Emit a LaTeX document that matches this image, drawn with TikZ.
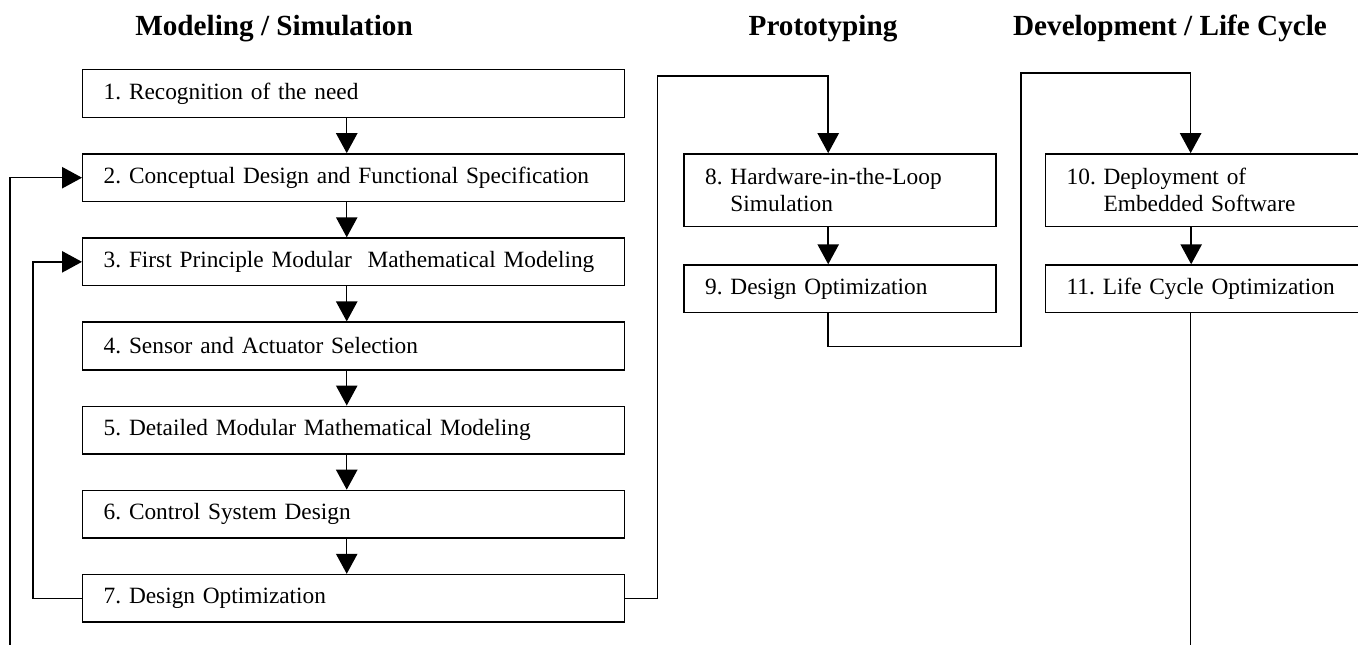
\documentclass[tikz,border=0pt]{standalone}
\usepackage{fontspec}
\setmainfont{Liberation Serif}
\frenchspacing
\usetikzlibrary{arrows.meta,positioning}

\begin{document}
\begin{tikzpicture}[node distance=26.25pt,
  s/.style={draw,line width=1.1pt,align=left,inner xsep=15.75pt,inner ysep=0pt,minimum height=35.75pt,font=\fontsize{17.5}{20.5}\selectfont},
  w/.style={s,text width=375pt},
  h/.style={font=\fontsize{21.9}{24}\selectfont\bfseries,anchor=base},
  a/.style={line width=1.1pt,-{Triangle[width=16pt,length=15pt]}}]
  \useasboundingbox (0,0) rectangle (1018.5pt,-483pt);
  % column titles
  \node[h] (hms) at (205.5pt,-26.25pt) {Modeling / Simulation};
  \node[h] (hpr) at (617.25pt,-26.25pt) {Prototyping};
  \node[h] (hdl) at (877.5pt,-26.25pt) {Development / Life Cycle};
  % modeling / simulation
  \node[w,anchor=north west] (rec) at (61.5pt,-51.75pt) {1. Recognition of the need};
  \node[w,below=of rec] (cds) {2. Conceptual Design and Functional Specification};
  \node[w,below=of cds] (fpm) {3. First Principle Modular\ \ Mathematical Modeling};
  \node[w,below=of fpm] (sas) {4. Sensor and Actuator Selection};
  \node[w,below=of sas] (dmm) {5. Detailed Modular Mathematical Modeling};
  \node[w,below=of dmm] (csd) {6. Control System Design};
  \node[w,below=of csd] (do7) {7. Design Optimization};
  % prototyping
  \node[s,text width=202.5pt,minimum height=54.5pt,right=43.5pt of cds.north east,anchor=north west] (hil) {8. Hardware-in-the-Loop\\\hphantom{8.\ }Simulation};
  \node[s,text width=202.5pt,below=27.75pt of hil] (do9) {9. Design Optimization};
  % development / life cycle
  \node[s,text width=204.75pt,minimum height=54.5pt,right=36pt of hil.north east,anchor=north west] (emb) {10. Deployment of\\\hphantom{10.\ }Embedded Software};
  \node[s,text width=204.75pt,below=27.75pt of emb] (lco) {11. Life Cycle Optimization};
  \coordinate (fbot) at (7.5pt,-484pt);
  \foreach \p/\q in {rec/cds,cds/fpm,fpm/sas,sas/dmm,dmm/csd,csd/do7}{\draw[a] ([xshift=-5.25pt]\p.south) -- ([xshift=-5.25pt]\q.north);}
  \foreach \p/\q in {hil/do9,emb/lco}{\draw[a] ([xshift=-9pt]\p.south) -- ([xshift=-9pt]\q.north);}
  % loops back
  \draw[a] (fbot) |- (cds.west);
  \draw[a] (do7.west) -- ++(-36.75pt,0) |- (fpm.west);
  % to the next phase
  \draw[a] (do7.east) -- ++(24pt,0) |- ([xshift=-9pt,yshift=57.75pt]hil.north) -- ([xshift=-9pt]hil.north);
  \draw[a] ([xshift=-9pt]do9.south) -- ++(0,-24.75pt) -| ([xshift=-18pt,yshift=60pt]emb.north west) -| ([xshift=-9.4pt]emb.north);
  \draw[line width=1.1pt] ([xshift=-9.4pt]lco.south) -- ([xshift=-9.4pt]lco.south |- fbot);
\end{tikzpicture}
\end{document}
